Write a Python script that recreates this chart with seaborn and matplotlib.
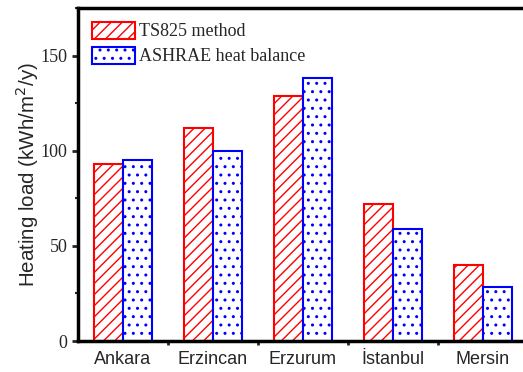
import matplotlib
matplotlib.use("Agg")
import matplotlib.pyplot as plt
from matplotlib.ticker import MultipleLocator, FixedLocator
import seaborn as sns
import pandas as pd

# Annual heating load per city for the two calculation methods
cities = ["Ankara", "Erzincan", "Erzurum", "İstanbul", "Mersin"]
methods = ["TS825 method", "ASHRAE heat balance"]
ts825 = [93, 112, 129, 72, 40]
ashrae = [95, 100, 138, 59, 28.5]

edge_colors = ["#ff0000", "#0000ff"]
hatches = ["///", ".."]

df = pd.DataFrame({
    "city": cities * 2,
    "method": [methods[0]] * len(cities) + [methods[1]] * len(cities),
    "load": ts825 + ashrae,
})

sns.set_theme(style="white")
plt.rcParams["hatch.linewidth"] = 1.0

fig = plt.figure(figsize=(5.23, 3.72), dpi=100)
ax = fig.add_axes([78 / 523, 31 / 372, 450 / 523, 333 / 372])

sns.barplot(data=df, x="city", y="load", hue="method", order=cities,
            hue_order=methods, palette=["white", "white"], width=0.655,
            gap=0, ax=ax, legend=False, saturation=1)

for cont, ec, h in zip(ax.containers, edge_colors, hatches):
    for p in cont.patches:
        p.set_facecolor("white")
        p.set_edgecolor(ec)
        p.set_hatch(h)
        p.set_linewidth(1.5)

ax.set_xlim(-0.5, 4.5)
ax.set_ylim(0, 175)
ax.set_xlabel("")
ax.set_ylabel("Heating load (kWh/m$^2$/y)", fontsize=14.8,
              family="Liberation Sans", labelpad=0)

# The frame is open on the right: only left, bottom and top lines
ax.set_frame_on(False)
black = "black"
ax.axvline(-0.5, color=black, lw=2.5, clip_on=False, solid_capstyle="projecting")
ax.axhline(0, color=black, lw=2.5, clip_on=False, solid_capstyle="projecting")
ax.axhline(175, color=black, lw=2.5, clip_on=False, solid_capstyle="projecting")

ax.yaxis.set_major_locator(MultipleLocator(50))
ax.yaxis.set_minor_locator(MultipleLocator(25))
ax.xaxis.set_minor_locator(FixedLocator([0.5, 1.5, 2.5, 3.5]))
ax.tick_params(axis="y", which="major", direction="out", length=4.5,
               width=2, left=True, right=False, pad=3, labelsize=13)
ax.tick_params(axis="y", which="minor", direction="out", length=2.5,
               width=1.5, left=True, right=False)
ax.tick_params(axis="x", which="major", length=0, pad=7, labelsize=13)
ax.tick_params(axis="x", which="minor", direction="out", length=3,
               width=2, bottom=True, top=False)
for t in ax.get_yticklabels():
    t.set_family("Liberation Serif")
for t in ax.get_xticklabels():
    t.set_family("Liberation Sans")

handles = [cont.patches[0] for cont in ax.containers]
leg = ax.legend(handles, methods, loc="upper left", frameon=False,
                bbox_to_anchor=(0.0, 1.0), borderaxespad=0.35,
                handlelength=2.4, handleheight=1.1, handletextpad=0.25,
                labelspacing=0.35, prop={"family": "Liberation Serif", "size": 13})

fig.savefig("out.png", dpi=100, facecolor="white", edgecolor="none")
